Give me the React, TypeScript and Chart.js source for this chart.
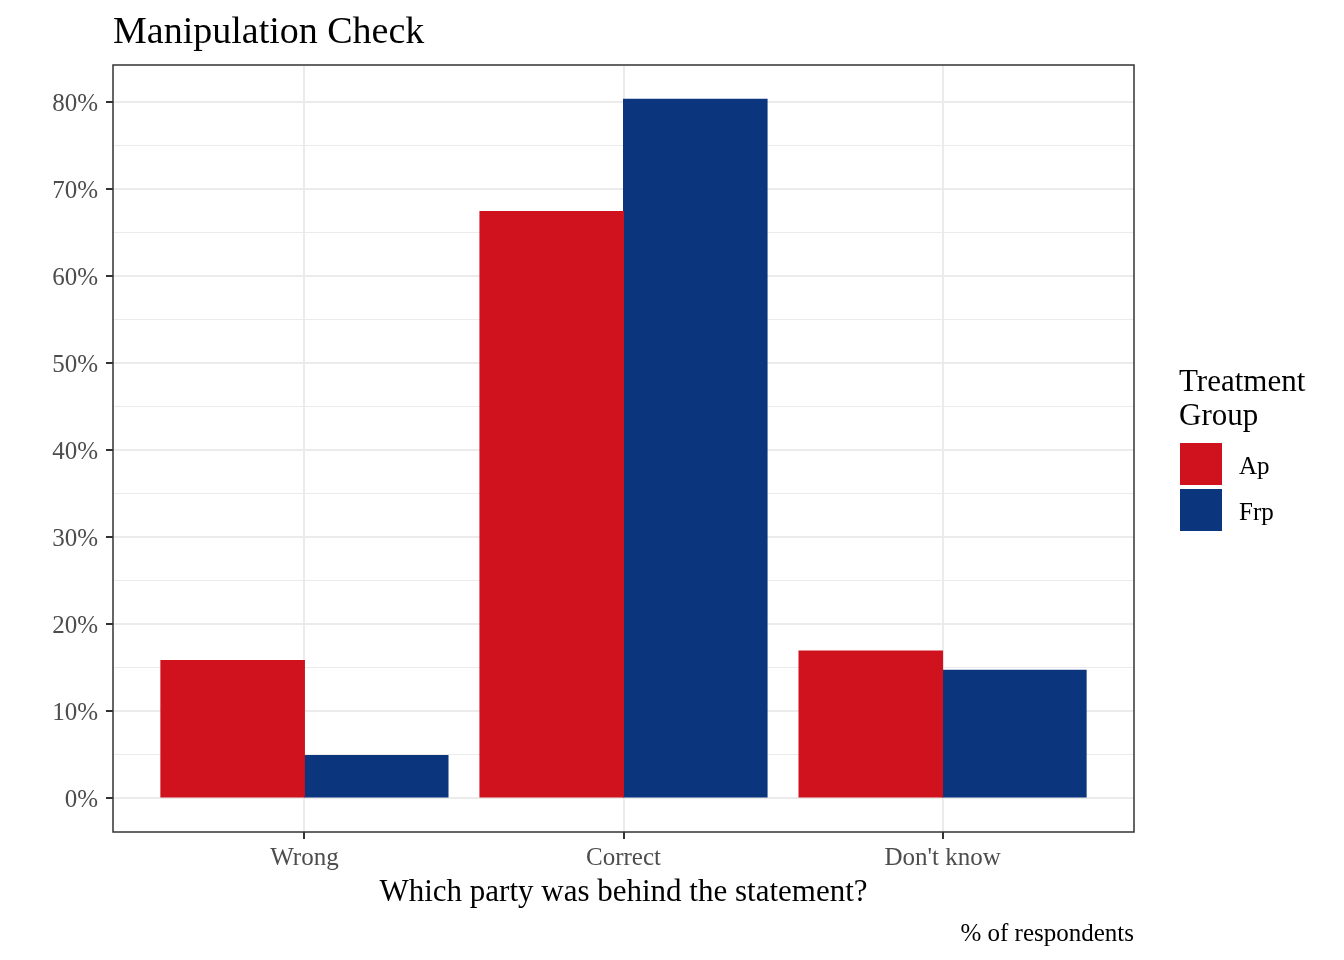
import React, { useEffect, useRef } from 'react';
import { Chart, registerables } from 'chart.js';

Chart.register(...registerables);

const categories = ['Wrong', 'Correct', "Don't know"];
const groups = ['Ap', 'Frp'];
const apValues = [15.8, 67.4, 16.9];
const frpValues = [4.9, 80.3, 14.7];
const groupColors = ['#D0111E', '#0B367E'];
const yTickValues = [0, 5, 10, 15, 20, 25, 30, 35, 40, 45, 50, 55, 60, 65, 70, 75, 80];
const xTickValues = [0, 1, 2];
const titleText = 'Manipulation Check';
const xTitleText = 'Which party was behind the statement?';
const captionText = '% of respondents';
const legendTitleLines = ['Treatment', 'Group'];

const FONT = '"Liberation Serif", "Times New Roman", serif';

const decorPlugin = {
  id: 'decor',
  beforeDraw(chart: any) {
    const { ctx } = chart;
    ctx.save();
    ctx.fillStyle = '#ffffff';
    ctx.fillRect(0, 0, chart.width, chart.height);
    ctx.restore();
  },
  afterDraw(chart: any) {
    const { ctx, chartArea: a } = chart;
    ctx.save();
    ctx.strokeStyle = '#333333';
    ctx.lineWidth = 1.5;
    ctx.strokeRect(a.left, a.top, a.right - a.left, a.bottom - a.top);

    ctx.fillStyle = '#000000';
    ctx.textBaseline = 'alphabetic';
    ctx.textAlign = 'left';
    ctx.font = `38px ${FONT}`;
    ctx.fillText(titleText, a.left, 43);

    ctx.font = `31px ${FONT}`;
    ctx.textAlign = 'center';
    ctx.fillText(xTitleText, (a.left + a.right) / 2, 901);

    ctx.font = `25px ${FONT}`;
    ctx.textAlign = 'right';
    ctx.fillText(captionText, a.right, 941);

    // legend
    ctx.textAlign = 'left';
    ctx.font = `31px ${FONT}`;
    legendTitleLines.forEach((line, i) => {
      ctx.fillText(line, 1179, 391 + i * 34);
    });
    ctx.font = `25px ${FONT}`;
    ctx.textBaseline = 'middle';
    chart.data.datasets.forEach((ds: any, i: number) => {
      const y = 443 + i * 46;
      ctx.fillStyle = ds.backgroundColor;
      ctx.fillRect(1180, y, 42, 42);
      ctx.fillStyle = '#000000';
      ctx.fillText(ds.label, 1239, y + 24);
    });
    ctx.restore();
  },
};

export default function App() {
  const canvasRef = useRef<HTMLCanvasElement | null>(null);

  useEffect(() => {
    document.body.style.margin = '0';
    const canvas = canvasRef.current;
    if (!canvas) return;
    const chart = new Chart(canvas, {
      type: 'bar',
      data: {
        datasets: [
          {
            label: groups[0],
            data: apValues.map((v, i) => ({ x: i, y: v })),
            backgroundColor: groupColors[0],
            borderWidth: 0,
            inflateAmount: 0.5,
          },
          {
            label: groups[1],
            data: frpValues.map((v, i) => ({ x: i, y: v })),
            backgroundColor: groupColors[1],
            borderWidth: 0,
            inflateAmount: 0.5,
          },
        ],
      },
      options: {
        responsive: false,
        animation: false,
        devicePixelRatio: 1,
        categoryPercentage: 0.9,
        barPercentage: 1.0,
        layout: { padding: { left: 0, top: 65, right: 210, bottom: 0 } },
        plugins: {
          legend: { display: false },
          title: { display: false },
          tooltip: { enabled: false },
        },
        scales: {
          x: {
            type: 'linear',
            min: -0.6,
            max: 2.6,
            offset: false,
            afterBuildTicks: (axis: any) => {
              axis.ticks = xTickValues.map((v) => ({ value: v }));
            },
            afterFit: (scale: any) => {
              scale.height = 128;
            },
            border: { display: false },
            grid: {
              offset: false,
              color: '#EBEBEB',
              lineWidth: 2,
              tickColor: '#333333',
              tickWidth: 2,
              tickLength: 7,
              drawTicks: true,
            },
            ticks: {
              autoSkip: false,
              maxRotation: 0,
              padding: 4,
              color: '#4D4D4D',
              font: { family: FONT, size: 25 },
              callback: (v: any) => categories[Number(v)] ?? '',
            },
          },
          y: {
            type: 'linear',
            min: -3.9,
            max: 84.25,
            afterBuildTicks: (axis: any) => {
              axis.ticks = yTickValues.map((v) => ({ value: v }));
            },
            afterFit: (scale: any) => {
              scale.width = 113;
            },
            border: { display: false },
            grid: {
              color: '#EBEBEB',
              lineWidth: (c: any) => (c.tick && c.tick.value % 10 === 0 ? 2 : 1),
              tickColor: (c: any) => (c.tick && c.tick.value % 10 === 0 ? '#333333' : 'rgba(0,0,0,0)'),
              tickWidth: 2,
              tickLength: 7,
              drawTicks: true,
            },
            ticks: {
              autoSkip: false,
              padding: 8,
              labelOffset: 2,
              color: '#4D4D4D',
              font: { family: FONT, size: 25 },
              callback: (v: any) => (Number(v) % 10 === 0 ? `${v}%` : ''),
            },
          },
        },
      },
      plugins: [decorPlugin],
    } as any);
    return () => chart.destroy();
  }, []);

  return (
    <div style={{ width: 1344, height: 960 }}>
      <canvas ref={canvasRef} width={1344} height={960} style={{ width: 1344, height: 960, display: 'block' }} />
    </div>
  );
}
